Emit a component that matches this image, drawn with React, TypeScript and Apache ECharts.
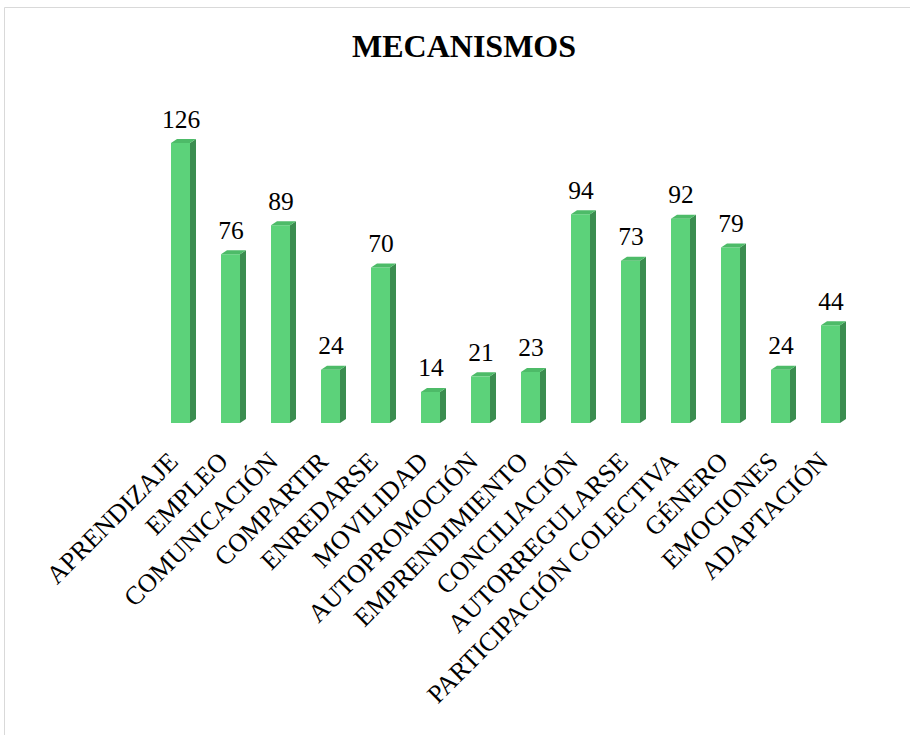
import React, { useEffect, useRef } from "react";
import * as echarts from "echarts";

const title = "MECANISMOS";
const categories = [
  "APRENDIZAJE",
  "EMPLEO",
  "COMUNICACIÓN",
  "COMPARTIR",
  "ENREDARSE",
  "MOVILIDAD",
  "AUTOPROMOCIÓN",
  "EMPRENDIMIENTO",
  "CONCILIACIÓN",
  "AUTORREGULARSE",
  "PARTICIPACIÓN COLECTIVA",
  "GÉNERO",
  "EMOCIONES",
  "ADAPTACIÓN",
];
const values = [126, 76, 89, 24, 70, 14, 21, 23, 94, 73, 92, 79, 24, 44];

const FRONT = "#5cd27a";
const SIDE = "#3b8d50";
const TOP = "#4dbb68";
const FONT = "Times New Roman, Liberation Serif, DejaVu Serif, serif";

export default function App() {
  const ref = useRef<HTMLDivElement>(null);
  useEffect(() => {
    if (!ref.current) return;
    const chart = echarts.init(ref.current, null, { renderer: "svg" });
    const data = values.map((v, i) => [i, v]);
    chart.setOption({
      animation: false,
      backgroundColor: "#ffffff",
      textStyle: { fontFamily: FONT },
      graphic: [
        {
          type: "rect",
          shape: { x: 4.5, y: 7.5, width: 940, height: 800 },
          style: { fill: "none", stroke: "#d9d9d9", lineWidth: 1 },
          silent: true,
        },
        {
          type: "text",
          x: 464,
          y: 46,
          style: {
            text: title,
            fontFamily: FONT,
            fontSize: 32,
            fontWeight: "bold",
            fill: "#000",
            align: "center",
            verticalAlign: "middle",
          },
        },
      ],
      grid: { left: 148.5, right: 61.5, top: 112, bottom: 312, containLabel: false },
      xAxis: {
        type: "category",
        data: categories,
        axisLine: { show: false },
        axisTick: { show: false },
        splitLine: { show: false },
        axisLabel: {
          interval: 0,
          rotate: 45,
          margin: 34,
          fontSize: 26,
          fontFamily: FONT,
          color: "#000",
        },
      },
      yAxis: {
        type: "value",
        min: 0,
        max: 140,
        show: false,
        splitLine: { show: false },
      },
      series: [
        {
          type: "custom",
          data,
          encode: { x: 0, y: 1 },
          renderItem: (params: any, api: any) => {
            const idx = api.value(0);
            const v = api.value(1);
            const top = api.coord([idx, v]);
            const base = api.coord([idx, 0]);
            const w = 19;
            const dx = 6;
            const dy = 4;
            const x0 = top[0] - 2.5;
            const ty = top[1];
            const by = base[1];
            return {
              type: "group",
              children: [
                {
                  type: "rect",
                  shape: { x: x0, y: ty, width: w, height: by - ty },
                  style: { fill: FRONT },
                },
                {
                  type: "polygon",
                  shape: {
                    points: [
                      [x0 + w, ty],
                      [x0 + w + dx, ty - dy],
                      [x0 + w + dx, by - dy],
                      [x0 + w, by],
                    ],
                  },
                  style: { fill: SIDE },
                },
                {
                  type: "polygon",
                  shape: {
                    points: [
                      [x0, ty],
                      [x0 + dx, ty - dy],
                      [x0 + w + dx, ty - dy],
                      [x0 + w, ty],
                    ],
                  },
                  style: { fill: TOP },
                },
                {
                  type: "text",
                  x: x0 + 10,
                  y: ty - 24,
                  style: {
                    text: String(v),
                    fontFamily: FONT,
                    fontSize: 25.5,
                    fill: "#000",
                    align: "center",
                    verticalAlign: "middle",
                  },
                },
              ],
            };
          },
        },
      ],
    });
    return () => chart.dispose();
  }, []);
  return (
    <div
      ref={ref}
      style={{ position: "fixed", left: 0, top: 0, width: 910, height: 735, overflow: "hidden" }}
    />
  );
}
